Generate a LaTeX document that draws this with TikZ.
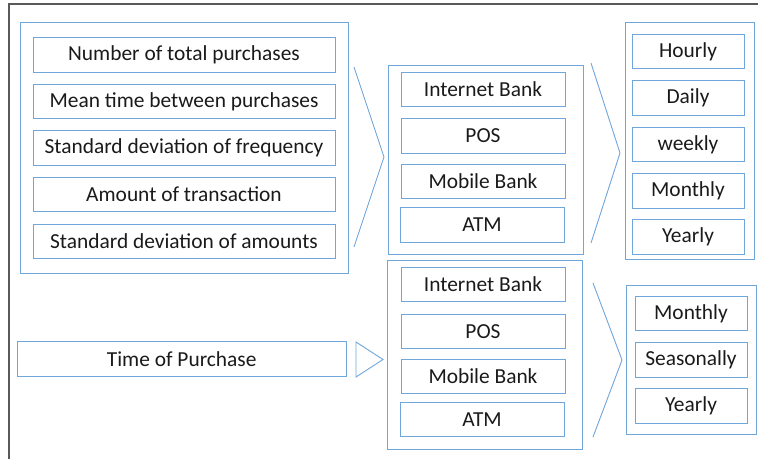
\documentclass[tikz,border=0pt]{standalone}
\usepackage{fontspec}
\setmainfont{Carlito}
\definecolor{boxblue}{HTML}{6FA6DC}
\definecolor{framegray}{HTML}{595959}
\definecolor{txt}{HTML}{1A1A1A}
\tikzset{
  item/.style={draw=boxblue, line width=0.9pt, inner sep=0pt, minimum height=34.5pt,
    text=txt, font=\fontsize{21.4}{25}\selectfont},
  group/.style={draw=boxblue, line width=0.9pt},
  chevron/.style={draw=boxblue, line width=0.9pt, line join=miter}
}
\begin{document}
\begin{tikzpicture}[x=1pt, y=-1pt]
			\useasboundingbox (0,0) rectangle (758,459);
			\draw[framegray, line width=1.6pt] (8.7,459) -- (8.7,4) -- (758,4);
			\draw[group] (20,22.7) rectangle (348,273);
			\node[item, minimum width=302pt] (num) at (184,54.8) {Number of total purchases};
			\node[item, minimum width=302pt] (mean) at (184,101.4) {Mean time between purchases};
			\node[item, minimum width=302pt] (sdf) at (184,148) {Standard deviation of frequency};
			\node[item, minimum width=302pt] (amt) at (184,194.6) {Amount of transaction};
			\node[item, minimum width=302pt] (sda) at (184,241.2) {Standard deviation of amounts};
			\draw[chevron] (354,67) -- (384,157) -- (354,247);
			\draw[group] (388,65) rectangle (583,254);
			\node[item, minimum width=164pt] (ibA) at (483,89.5) {Internet Bank};
			\node[item, minimum width=164pt] (posA) at (483,136) {POS};
			\node[item, minimum width=164pt] (mbA) at (483,181.5) {Mobile Bank};
			\node[item, minimum width=164pt] (atmA) at (482,224.7) {ATM};
			\draw[chevron] (591,63) -- (620,153) -- (591,243);
			\draw[group] (625,22.7) rectangle (754,259);
			\node[item, minimum width=112pt] (hourly) at (688,51.5) {Hourly};
			\node[item, minimum width=112pt] (daily) at (688,98) {Daily};
			\node[item, minimum width=112pt] (weekly) at (688,144.5) {weekly};
			\node[item, minimum width=112pt] (monthlyA) at (688,191) {Monthly};
			\node[item, minimum width=112pt] (yearlyA) at (688,237) {Yearly};
			\node[item, minimum width=329pt] (top) at (181.7,358.8) {Time of Purchase};
			\draw[chevron] (356,342) -- (383,359.5) -- (356,377) -- cycle;
			\draw[group] (387,260) rectangle (582,449);
			\node[item, minimum width=164pt] (ibB) at (483,284.5) {Internet Bank};
			\node[item, minimum width=164pt] (posB) at (483,331.3) {POS};
			\node[item, minimum width=164pt] (mbB) at (483,376.2) {Mobile Bank};
			\node[item, minimum width=164pt] (atmB) at (482,419.5) {ATM};
			\draw[chevron] (593,283) -- (622,360) -- (593,437);
			\draw[group] (626,285) rectangle (756,434.3);
			\node[item, minimum width=112pt] (monthlyB) at (691,313.3) {Monthly};
			\node[item, minimum width=112pt] (season) at (691,359.8) {Seasonally};
			\node[item, minimum width=112pt] (yearlyB) at (691,405.7) {Yearly};
		\end{tikzpicture}
\end{document}
